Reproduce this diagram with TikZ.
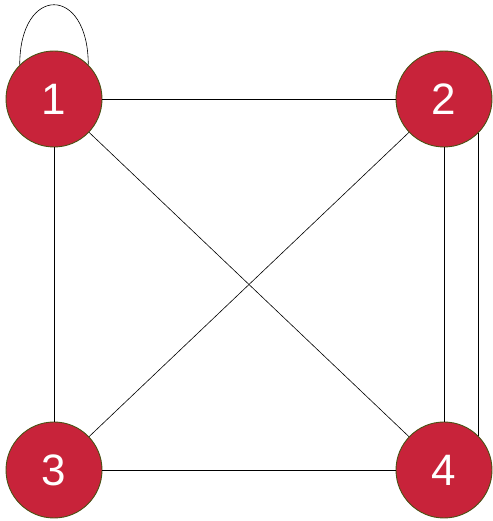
\documentclass[tikz,border=0pt]{standalone}
\usepackage{fontspec}
\setsansfont{Liberation Sans}
\usepackage{tikz}
\usetikzlibrary{positioning}
\definecolor{vfill}{HTML}{C8233A}
\definecolor{vedge}{HTML}{4A5214}

\begin{document}
\begin{tikzpicture}[
  x=1pt, y=1pt,
  vertex/.style={draw=vedge, line width=0.9pt, fill=vfill, circle, minimum size=96pt, inner sep=0pt,
    text=white, font=\sffamily\fontsize{44}{44}\selectfont},
  link/.style={line width=0.6pt, black}
]
\useasboundingbox (0,0) rectangle (492,521);
\node[vertex] (v1) at (54,422)  {1};
\node[vertex] (v2) at (444,422) {2};
\node[vertex] (v3) at (54,51)   {3};
\node[vertex] (v4) at (444,51)  {4};
\draw[link] (v1) -- (v2);
\draw[link] (v1) -- (v3);
\draw[link] (v1) -- (v4);
\draw[link] (v2) -- (v3);
\draw[link] (v2) -- (v4);
\draw[link] (v2.-45) -- (v4.45);
\draw[link] (v3) -- (v4);
\draw[link] (v1.135) .. controls +(0,80) and +(0,80) .. (v1.45);
\end{tikzpicture}
\end{document}
